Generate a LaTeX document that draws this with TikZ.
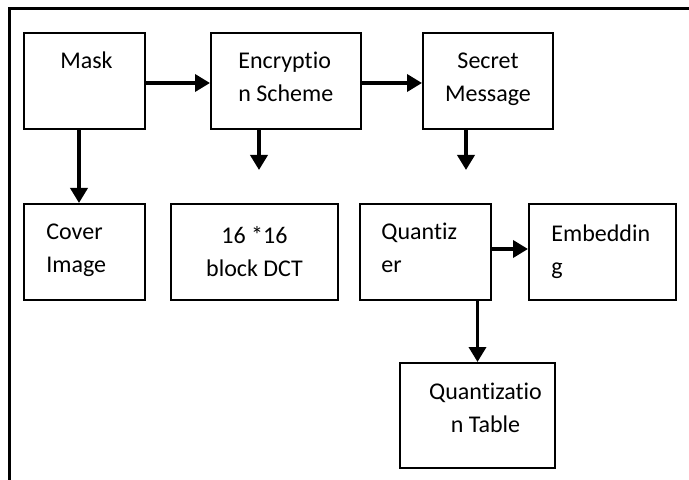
\documentclass[tikz,border=0pt]{standalone}
\usepackage{fontspec}
\setmainfont{Carlito}[Ligatures=CommonOff]
\usepackage{tikz}
\usetikzlibrary{arrows.meta, positioning, calc}

\tikzset{
  blok/.style={draw=black, line width=1pt, inner sep=0pt},
  blocktxt/.style={font=\fontsize{12}{16.5}\selectfont, inner sep=0pt, anchor=base},
  flow/.style={line width=1.8pt, -{Triangle[width=8.5pt,length=7.5pt]}}
}

\begin{document}
\begin{tikzpicture}[x=0.5pt, y=-0.5pt]
    \useasboundingbox (0,0) rectangle (689,480);
    \begin{scope}
      \clip (0,0) rectangle (689,480);
      \draw[line width=1.5pt] (9,9) rectangle (700,495);
    \end{scope}

    % top row
    \node[blok, minimum width=60.5pt, minimum height=48pt] (mask) at (84.5,81) {};
    \node[blok, minimum width=75pt, minimum height=48pt] (enc) at (286,81) {};
    \node[blok, minimum width=65pt, minimum height=48pt] (secret) at (488,81) {};

    % second row
    \node[blok, minimum width=60.5pt, minimum height=48pt] (cover) at (84.5,252) {};
    \node[blok, minimum width=83.5pt, minimum height=48pt] (dct) at (254.5,252) {};
    \node[blok, minimum width=65.5pt, minimum height=48pt] (quant) at (425.5,252) {};
    \node[blok, minimum width=73.5pt, minimum height=48pt] (embed) at (602.5,252) {};
    \node[blok, minimum width=77.5pt, minimum height=52.5pt] (qtable) at (477.5,415.5) {};

    % texts (base = last line)
    \node[blocktxt, align=center] (maskT) at ($(mask.north)+(2,37)$) {Mask};
    \node[blocktxt, align=left, anchor=base west] (encT) at ($(enc.north west)+(28,70)$) {Encryptio\\n Scheme};
    \node[blocktxt, align=center] (secretT) at ($(secret.north)+(0,70)$) {Secret\\Message};
    \node[blocktxt, align=left, anchor=base west] (coverT) at ($(cover.north west)+(23,69)$) {Cover\\Image};
    \node[blocktxt, align=center] (dctT) at ($(dct.north)+(0,74)$) {16 *16\\block DCT};
    \node[blocktxt, align=left, anchor=base west] (quantT) at ($(quant.north west)+(22,69)$) {Quantiz\\er};
    \node[blocktxt, align=left, anchor=base west] (embedT) at ($(embed.north west)+(23,71)$) {Embeddin\\g};
    \node[blocktxt, align=center] (qtableT) at ($(qtable.north)+(8,70)$) {Quantizatio\\n Table};

    \coordinate (encEnd) at (259,170);
    \coordinate (secretEnd) at (466,170);

    % arrows
    \draw[flow] ([yshift=-1pt]mask.east) -- ([yshift=-1pt]enc.west);
    \draw[flow] ([yshift=-1pt]enc.east) -- ([yshift=-1pt]secret.west);
    \draw[flow] ([xshift=-2.75pt]mask.south) -- ([xshift=-2.75pt]cover.north);
    \draw[flow] (enc.south -| encEnd) -- (encEnd);
    \draw[flow] (secret.south -| secretEnd) -- (secretEnd);
    \draw[flow] ([yshift=1.5pt]quant.east) -- ([yshift=1.5pt]embed.west);
    \draw[flow] (quant.south -| qtable.north) -- (qtable.north);
  \end{tikzpicture}
\end{document}
